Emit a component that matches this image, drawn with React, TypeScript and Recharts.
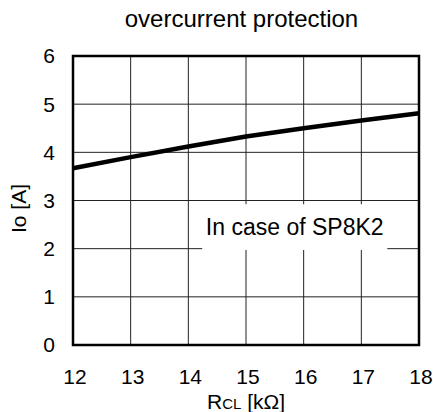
import React from "react";
import {
	LineChart,
	Line,
	XAxis,
	YAxis,
	CartesianGrid,
	ReferenceArea,
	Label,
} from "recharts";

const resistance = [12, 13, 14, 15, 16, 17, 18];
const current = [3.67, 3.9, 4.12, 4.33, 4.5, 4.66, 4.81];
const xTicks = [12, 13, 14, 15, 16, 17, 18];
const yTicks = [0, 1, 2, 3, 4, 5, 6];
const title = "overcurrent protection";
const note = "In case of SP8K2";
// white box behind the note, in data units
const noteBox = { x1: 14.24, x2: 17.45, y1: 1.97, y2: 2.92 };

const font = "'Liberation Sans', Arial, sans-serif";

const data = resistance.map((r, i) => ({ r, io: current[i] }));

function XTitle(props: any) {
	const { viewBox } = props;
	const cx = viewBox.x + viewBox.width / 2;
	return (
		<text x={cx} y={409} textAnchor="middle" fontSize={21} fill="#000" fontFamily={font}>
			<tspan>R</tspan>
			<tspan fontSize={15}>CL</tspan>
			<tspan> [kΩ]</tspan>
		</text>
	);
}

function YTitle(props: any) {
	const { viewBox } = props;
	const cy = viewBox.y + viewBox.height / 2 + 8;
	return (
		<text
			x={18}
			y={cy}
			transform={`rotate(-90, 18, ${cy})`}
			textAnchor="middle"
			dominantBaseline="central"
			fontSize={21}
			fill="#000"
			fontFamily={font}
		>
			Io [A]
		</text>
	);
}

export default function App() {
	return (
		<div style={{ position: "absolute", left: 0, top: 0, width: 433, height: 412, background: "#fff", fontFamily: font }}>
			<div
				style={{
					position: "absolute",
					top: 5,
					left: 0,
					width: 483,
					textAlign: "center",
					fontSize: 24,
					lineHeight: "28px",
				}}
			>
				{title}
			</div>
			<LineChart
				width={433}
				height={412}
				data={data}
				margin={{ top: 56, right: 14, bottom: 0, left: 0 }}
			>
				<CartesianGrid stroke="#222" strokeWidth={1} />
				<XAxis
					dataKey="r"
					type="number"
					domain={[12, 18]}
					ticks={xTicks}
					height={67}
					tickSize={0}
					tickMargin={24}
					axisLine={false}
					tick={{ fill: "#000", fontSize: 21, fontFamily: font, dx: 2 }}
				>
					<Label content={<XTitle />} />
				</XAxis>
				<YAxis
					type="number"
					domain={[0, 6]}
					ticks={yTicks}
					width={73}
					tickSize={0}
					tickMargin={18}
					axisLine={false}
					tick={{ fill: "#000", fontSize: 21, fontFamily: font }}
				>
					<Label content={<YTitle />} />
				</YAxis>
				<ReferenceArea
					x1={noteBox.x1}
					x2={noteBox.x2}
					y1={noteBox.y1}
					y2={noteBox.y2}
					fill="#fff"
					fillOpacity={1}
					stroke="none"
				>
					<Label value={note} position="center" fontSize={23} fill="#000" fontFamily={font} />
				</ReferenceArea>
				<ReferenceArea x1={12} x2={18} y1={0} y2={6} fill="none" stroke="#000" strokeWidth={2.5} />
				<Line
					dataKey="io"
					type="linear"
					stroke="#000"
					strokeWidth={4.5}
					dot={false}
					isAnimationActive={false}
				/>
			</LineChart>
		</div>
	);
}
